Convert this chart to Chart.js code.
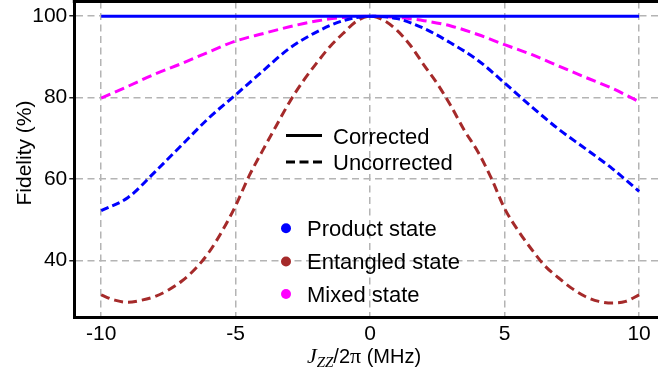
<!DOCTYPE html>
<html>
<head>
<meta charset="utf-8">
<script src="https://cdn.jsdelivr.net/npm/chart.js@4.4.0/dist/chart.umd.min.js"></script>
<style>
  html, body { margin: 0; padding: 0; overflow: hidden; background: #fff; }
</style>
</head>
<body>
<canvas id="fidelityChart" width="666" height="372"></canvas>
<script>
// detuning J_zz/2pi in MHz
const detuning = [-10, -9, -8, -7, -6, -5, -4, -3, -2, -1, 0, 1, 2, 3, 4, 5, 6, 7, 8, 9, 10];
const detuningFine = [-10, -9.5, -9, -8.5, -8, -7.5, -7, -6.5, -6, -5.5, -5, -4.5, -4, -3.5, -3, -2.5, -2, -1.5, -1, -0.5,
  0, 0.5, 1, 1.5, 2, 2.5, 3, 3.5, 4, 4.5, 5, 5.5, 6, 6.5, 7, 7.5, 8, 8.5, 9, 9.5, 10];

const productCorrected = [100, 100, 100, 100, 100, 100, 100, 100, 100, 100, 100, 100, 100, 100, 100, 100, 100, 100, 100, 100, 100];
const productUncorrected = [52.3, 55.5, 61.8, 68.4, 75.0, 80.7, 86.5, 92.1, 96.1, 98.9, 100, 99.4, 97.0, 93.4, 89.2, 83.6, 77.8, 72.3, 67.5, 62.6, 57.0];
const mixedUncorrected = [79.9, 82.8, 85.8, 88.4, 91.2, 93.9, 95.7, 97.4, 98.8, 99.7, 100, 99.7, 98.9, 97.6, 95.5, 93.0, 90.6, 87.8, 85.0, 82.3, 79.0];
const entangledUncorrected = [31.6, 30.3, 29.8, 30.3, 31.2, 32.8, 35.0, 38.0, 42.0, 47.3, 53.5, 60.8, 67.0, 73.0, 78.9, 84.0, 88.4, 92.5, 95.8, 98.8,
  100, 99.0, 96.5, 92.8, 88.0, 83.4, 78.0, 72.0, 66.8, 60.3, 52.8, 47.4, 42.8, 38.7, 35.8, 33.2, 31.2, 30.0, 29.6, 30.0, 31.6];

const xTicks = [-10, -5, 0, 5, 10];
const yTicks = [40, 60, 80, 100];

const lineLegend = ['Corrected', 'Uncorrected'];
const stateLegend = ['Product state', 'Entangled state', 'Mixed state'];
const stateColors = ['#0000ff', '#a52a2a', '#ff00ff'];

function points(xs, ys) {
  return xs.map((x, i) => ({ x: x, y: ys[i] }));
}

const annotations = {
  id: 'annotations',
  afterDraw(chart) {
    const { ctx, chartArea: a } = chart;
    ctx.save();

    // top spine
    ctx.strokeStyle = '#000';
    ctx.lineWidth = 3;
    ctx.beginPath();
    ctx.moveTo(a.left - 1.5, a.top);
    ctx.lineTo(a.right, a.top);
    ctx.stroke();

    // line style legend
    ctx.fillStyle = '#000';
    ctx.font = '22px "Liberation Sans"';
    ctx.textAlign = 'left';
    ctx.textBaseline = 'alphabetic';
    ctx.lineWidth = 3;
    ctx.beginPath();
    ctx.moveTo(286, 135.5);
    ctx.lineTo(322, 135.5);
    ctx.stroke();
    ctx.fillText(lineLegend[0], 333, 143.5);
    ctx.setLineDash([9, 4.5]);
    ctx.beginPath();
    ctx.moveTo(286, 162);
    ctx.lineTo(322, 162);
    ctx.stroke();
    ctx.setLineDash([]);
    ctx.fillText(lineLegend[1], 333, 170);

    // state legend
    const rows = [228.3, 261.5, 294];
    stateLegend.forEach((label, i) => {
      ctx.fillStyle = stateColors[i];
      ctx.beginPath();
      ctx.arc(286, rows[i], 5, 0, Math.PI * 2);
      ctx.fill();
      ctx.fillStyle = '#000';
      ctx.fillText(label, 307, rows[i] + 7.5);
    });

    // y title
    ctx.save();
    ctx.translate(30.5, 153);
    ctx.rotate(-Math.PI / 2);
    ctx.textAlign = 'center';
    ctx.font = '21px "Liberation Sans"';
    ctx.fillText('Fidelity (%)', 0, 0);
    ctx.restore();

    // x title: J_ZZ/2π (MHz)
    const parts = [
      { t: 'J', f: 'italic 22px "Liberation Serif"', dy: 0 },
      { t: 'ZZ', f: 'italic 15px "Liberation Serif"', dy: 4 },
      { t: '/2', f: '20px "Liberation Sans"', dy: 0 },
      { t: 'π', f: '22px "Liberation Serif"', dy: 0 },
      { t: ' (MHz)', f: '20px "Liberation Sans"', dy: 0 }
    ];
    let total = 0;
    parts.forEach(p => { ctx.font = p.f; p.w = ctx.measureText(p.t).width; total += p.w; });
    let x = 364 - total / 2;
    parts.forEach(p => {
      ctx.font = p.f;
      ctx.fillText(p.t, x, 363 + p.dy);
      x += p.w;
    });

    ctx.restore();
  }
};

const ctx = document.getElementById('fidelityChart').getContext('2d');
const fidelityChart = new Chart(ctx, {
  type: 'line',
  data: {
    datasets: [
      {
        data: points(detuning, productCorrected),
        borderColor: '#0000ff',
        borderWidth: 3
      },
      {
        data: points(detuning, productUncorrected),
        borderColor: '#0000ff',
        borderWidth: 3,
        borderDash: [8, 4]
      },
      {
        data: points(detuningFine, entangledUncorrected),
        borderColor: '#a52a2a',
        borderWidth: 3,
        borderDash: [9, 5]
      },
      {
        data: points(detuning, mixedUncorrected),
        borderColor: '#ff00ff',
        borderWidth: 3,
        borderDash: [10, 5]
      }
    ]
  },
  options: {
    responsive: false,
    animation: false,
    layout: { padding: { top: 1.5, left: 0, right: 0, bottom: 0 } },
    elements: {
      point: { radius: 0 },
      line: { cubicInterpolationMode: 'monotone', fill: false }
    },
    scales: {
      x: {
        type: 'linear',
        min: -11,
        max: 11,
        afterBuildTicks: function(scale) {
          scale.ticks = xTicks.map(v => ({ value: v }));
        },
        afterFit: function(scale) {
          scale.height = 54.3;
          scale.paddingLeft = 0;
          scale.paddingRight = 0;
        },
        ticks: {
          color: '#000',
          font: { family: 'Liberation Sans', size: 21 },
          padding: 4,
          maxRotation: 0
        },
        grid: {
          color: '#b4b4b4',
          lineWidth: 1.5,
          drawTicks: false
        },
        border: { display: true, color: '#000', width: 3, dash: [7, 4.5] }
      },
      y: {
        min: 26,
        max: 103.6,
        afterBuildTicks: function(scale) {
          scale.ticks = yTicks.map(v => ({ value: v }));
        },
        afterFit: function(scale) {
          scale.width = 74.3;
          scale.paddingTop = 0;
          scale.paddingBottom = 0;
        },
        ticks: {
          color: '#000',
          font: { family: 'Liberation Sans', size: 21 },
          padding: 2
        },
        grid: {
          color: '#b4b4b4',
          lineWidth: 1.5,
          tickLength: 5,
          tickColor: '#222',
          tickWidth: 1.5,
          tickBorderDash: []
        },
        border: { display: true, color: '#000', width: 3, dash: [7, 4.5] }
      }
    },
    plugins: {
      legend: { display: false },
      title: { display: false },
      tooltip: { enabled: false }
    }
  },
  plugins: [annotations]
});
</script>
</body>
</html>
